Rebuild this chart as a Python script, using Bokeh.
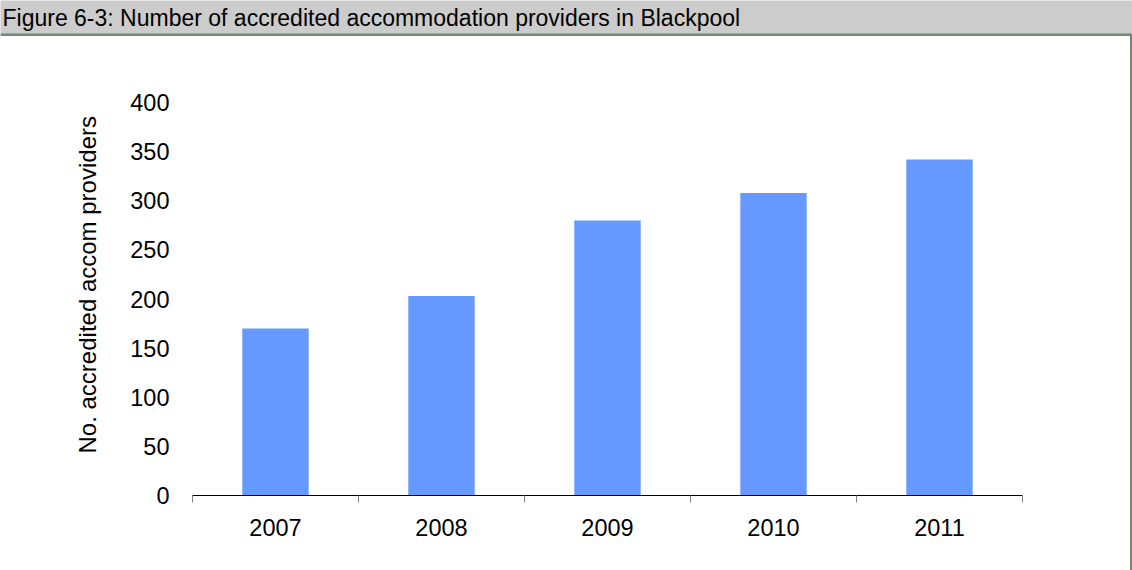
from bokeh.plotting import figure
from bokeh.models import Range1d, FixedTicker, Span, Spacer, Title
from bokeh.layouts import column, row
from bokeh.embed import file_html
from bokeh.resources import INLINE
from bokeh.core.properties import value

# ---- data ----
title_text = "Figure 6-3: Number of accredited accommodation providers in Blackpool"
years = ["2007", "2008", "2009", "2010", "2011"]
providers = [170, 203, 280, 308, 342]
y_ticks = [0, 50, 100, 150, 200, 250, 300, 350, 400]
y_label = "No. accredited accom providers"

FONT = "Liberation Sans"
FS_TITLE = "23px"
FS = "23.5px"
FS_LABEL = "24px"
W = 1132
HH = 36
MH = 570 - HH
BORDER = "#6f8a7a"

# ---- header bar ----
header = figure(width=W, height=HH, x_range=Range1d(0, W), y_range=Range1d(0, HH),
                output_backend="svg", toolbar_location=None, min_border=0,
                x_axis_location=None, y_axis_location=None,
                background_fill_color="#cccccc", border_fill_color="#cccccc",
                outline_line_color=None)
header.grid.visible = False
header.text(x=[2], y=[19], text=[title_text], text_font=value(FONT),
            text_font_size=FS_TITLE, text_baseline="middle", text_align="left",
            text_color="black")
header.add_layout(Span(location=1.5, dimension="width", line_color=BORDER, line_width=3))

# ---- main chart ----
xs = list(range(1, len(years) + 1))
bounds = [i + 0.5 for i in range(0, len(years) + 1)]

PW = W - 2
p = figure(width=PW, height=MH, x_range=Range1d(0.5, len(years) + 0.5),
           y_range=Range1d(0, 400), output_backend="svg", toolbar_location=None,
           min_border_left=192, min_border_right=PW - 1022, min_border_top=102 - HH,
           min_border_bottom=570 - 495, outline_line_color=None,
           background_fill_color="white", border_fill_color="white")
p.vbar(x=xs, top=providers, width=0.4, fill_color="#6699ff", line_color=None)
p.grid.visible = False

xa = p.xaxis[0]
xa.ticker = FixedTicker(ticks=xs, minor_ticks=bounds)
xa.major_label_overrides = {x: y for x, y in zip(xs, years)}
xa.major_tick_line_color = None
xa.major_tick_out = 0
xa.major_tick_in = 0
xa.minor_tick_line_color = "#808080"
xa.minor_tick_out = 7
xa.minor_tick_in = 0
xa.axis_line_color = "black"
xa.axis_line_width = 1
xa.major_label_standoff = 16
xa.major_label_text_font = FONT
xa.major_label_text_font_size = FS
xa.major_label_text_color = "black"

ya = p.yaxis[0]
ya.ticker = FixedTicker(ticks=y_ticks)
ya.axis_line_color = None
ya.major_tick_line_color = None
ya.minor_tick_line_color = None
ya.major_tick_out = 0
ya.major_tick_in = 0
ya.major_label_standoff = 23
ya.major_label_text_font = FONT
ya.major_label_text_font_size = FS
ya.major_label_text_color = "black"

# y-axis title in the left panel, shifted up a little as in the original
p.add_layout(Title(text=y_label, align="left", offset=42, standoff=54,
                   text_font=FONT, text_font_size=FS_LABEL,
                   text_font_style="normal", text_color="black"), "left")

edge = Spacer(width=2, height=MH, styles={"background-color": BORDER})

layout = column(header, row(p, edge))

with open("out.html", "w") as f:
    f.write(file_html(layout, INLINE))
